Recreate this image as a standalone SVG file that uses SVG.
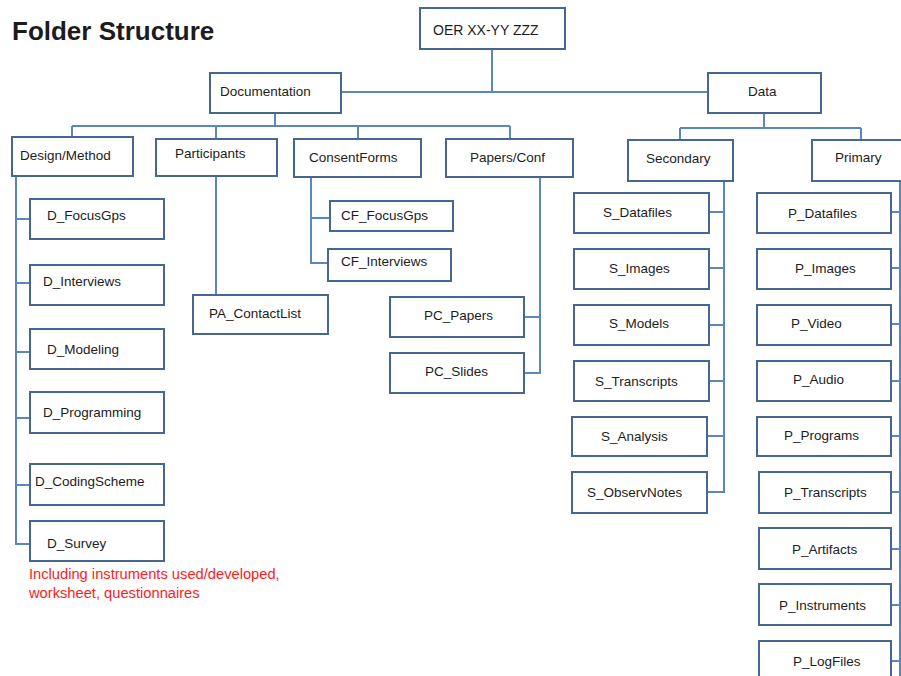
<svg xmlns="http://www.w3.org/2000/svg" width="901" height="676" viewBox="0 0 901 676">
<style>
.b{fill:#fff;stroke:#46678f;stroke-width:2}
.t{font-family:"Liberation Sans",Arial,sans-serif;font-size:13.5px;fill:#1c1c1c}
.c{fill:none;stroke:#5a87c0;stroke-width:2}
.r{font-family:"Liberation Sans",Arial,sans-serif;font-size:14.7px;fill:#ff1a1a}
</style>
<rect width="901" height="676" fill="#fff"/>
<text x="12" y="40" style="font-family:'Liberation Sans',Arial,sans-serif;font-size:26px;font-weight:bold;fill:#1c1c1c">Folder Structure</text>
<g id="connectors">
<path class="c" d="M492,49V92M341,92H708"/>
<path class="c" d="M275,113V126M72,126H510M72,126V137M216,126V139M358,126V139M510,126V139"/>
<path class="c" d="M764,113V128M680,128H861M680,128V140M861,128V140"/>
<path class="c" d="M16,176V544H30M16,219H30M16,283H30M16,352H30M16,418H30M16,485H30"/>
<path class="c" d="M216,176V295"/>
<path class="c" d="M311,177V263H328M311,218H330"/>
<path class="c" d="M540,177V373H524M540,317H524"/>
<path class="c" d="M724,181V492H707M709,212H724M709,268H724M709,325H724M709,381H724M707,436H724"/>
<path class="c" d="M900,181V676M891,212H900M891,268H900M891,324H900M891,381H900M891,436H900M891,492H900M891,549H900M891,605H900M891,661H900"/>
</g>
<g id="oer"><rect class="b" x="420" y="8" width="145" height="41"/><text class="t" x="433" y="35" style="font-size:14px">OER XX-YY ZZZ</text></g>
<g id="documentation"><rect class="b" x="210" y="73" width="131" height="40"/><text class="t" x="220" y="96">Documentation</text></g>
<g id="data"><rect class="b" x="708" y="73" width="113" height="40"/><text class="t" x="748" y="96">Data</text></g>
<g id="design"><rect class="b" x="12" y="137" width="121" height="39"/><text class="t" x="20" y="160">Design/Method</text></g>
<g id="participants"><rect class="b" x="156" y="139" width="121" height="37"/><text class="t" x="175" y="158">Participants</text></g>
<g id="consentforms"><rect class="b" x="294" y="139" width="127" height="38"/><text class="t" x="309" y="162">ConsentForms</text></g>
<g id="papersconf"><rect class="b" x="446" y="139" width="127" height="38"/><text class="t" x="470" y="162">Papers/Conf</text></g>
<g id="secondary"><rect class="b" x="628" y="140" width="105" height="41"/><text class="t" x="646" y="163">Secondary</text></g>
<g id="primary"><rect class="b" x="812" y="140" width="95" height="41"/><text class="t" x="835" y="162">Primary</text></g>
<g id="d_focusgps"><rect class="b" x="30" y="199" width="134" height="40"/><text class="t" x="47" y="220">D_FocusGps</text></g>
<g id="d_interviews"><rect class="b" x="30" y="265" width="134" height="40"/><text class="t" x="43" y="286">D_Interviews</text></g>
<g id="d_modeling"><rect class="b" x="30" y="329" width="134" height="40"/><text class="t" x="47" y="354">D_Modeling</text></g>
<g id="d_programming"><rect class="b" x="30" y="392" width="134" height="41"/><text class="t" x="43" y="417">D_Programming</text></g>
<g id="d_codingscheme"><rect class="b" x="30" y="464" width="134" height="41"/><text class="t" x="35" y="486">D_CodingScheme</text></g>
<g id="d_survey"><rect class="b" x="30" y="521" width="134" height="40"/><text class="t" x="47" y="548">D_Survey</text></g>
<g id="note"><text class="r" x="29" y="579">Including instruments used/developed,</text><text class="r" x="29" y="598">worksheet, questionnaires</text></g>
<g id="pa_contactlist"><rect class="b" x="193" y="295" width="135" height="39"/><text class="t" x="209" y="318">PA_ContactList</text></g>
<g id="cf_focusgps"><rect class="b" x="330" y="201" width="123" height="30"/><text class="t" x="341" y="220">CF_FocusGps</text></g>
<g id="cf_interviews"><rect class="b" x="328" y="249" width="123" height="32"/><text class="t" x="341" y="266">CF_Interviews</text></g>
<g id="pc_papers"><rect class="b" x="390" y="297" width="134" height="40"/><text class="t" x="424" y="320">PC_Papers</text></g>
<g id="pc_slides"><rect class="b" x="390" y="353" width="134" height="40"/><text class="t" x="425" y="376">PC_Slides</text></g>
<g id="s_datafiles"><rect class="b" x="574" y="193" width="135" height="40"/><text class="t" x="603" y="217">S_Datafiles</text></g>
<g id="s_images"><rect class="b" x="574" y="249" width="135" height="40"/><text class="t" x="609" y="273">S_Images</text></g>
<g id="s_models"><rect class="b" x="574" y="305" width="135" height="40"/><text class="t" x="609" y="328">S_Models</text></g>
<g id="s_transcripts"><rect class="b" x="574" y="361" width="135" height="40"/><text class="t" x="595" y="386">S_Transcripts</text></g>
<g id="s_analysis"><rect class="b" x="572" y="417" width="135" height="39"/><text class="t" x="601" y="441">S_Analysis</text></g>
<g id="s_observnotes"><rect class="b" x="572" y="472" width="135" height="41"/><text class="t" x="587" y="497">S_ObservNotes</text></g>
<g id="p_datafiles"><rect class="b" x="757" y="193" width="134" height="40"/><text class="t" x="788" y="218">P_Datafiles</text></g>
<g id="p_images"><rect class="b" x="757" y="249" width="134" height="40"/><text class="t" x="795" y="273">P_Images</text></g>
<g id="p_video"><rect class="b" x="757" y="305" width="134" height="40"/><text class="t" x="791" y="328">P_Video</text></g>
<g id="p_audio"><rect class="b" x="757" y="361" width="134" height="40"/><text class="t" x="793" y="384">P_Audio</text></g>
<g id="p_programs"><rect class="b" x="757" y="417" width="134" height="39"/><text class="t" x="784" y="440">P_Programs</text></g>
<g id="p_transcripts"><rect class="b" x="759" y="472" width="132" height="41"/><text class="t" x="784" y="497">P_Transcripts</text></g>
<g id="p_artifacts"><rect class="b" x="759" y="528" width="132" height="41"/><text class="t" x="792" y="554">P_Artifacts</text></g>
<g id="p_instruments"><rect class="b" x="759" y="584" width="132" height="41"/><text class="t" x="779" y="610">P_Instruments</text></g>
<g id="p_logfiles"><rect class="b" x="759" y="641" width="132" height="41"/><text class="t" x="793" y="666">P_LogFiles</text></g>
</svg>
